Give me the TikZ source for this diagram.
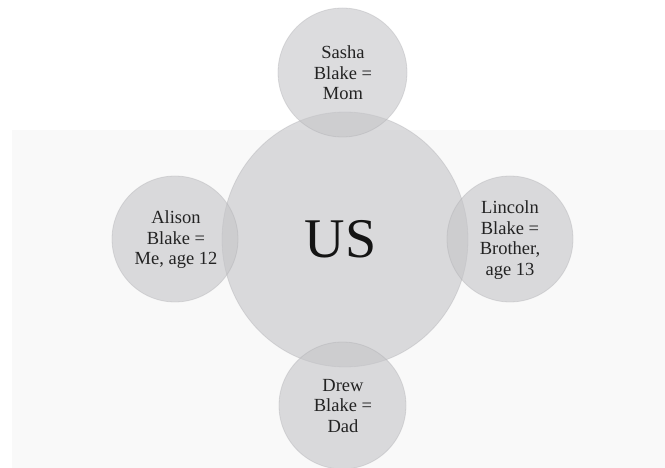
\documentclass[tikz,border=0pt]{standalone}
\usepackage{fontspec}
\setmainfont{Liberation Serif}
\usetikzlibrary{shapes.geometric}
\definecolor{bubble}{RGB}{197,197,200}
\definecolor{bubbleedge}{RGB}{170,170,174}
\definecolor{txt}{RGB}{35,35,35}
\tikzset{
  bubblestyle/.style={fill=bubble, fill opacity=0.6, draw=bubbleedge, draw opacity=0.35, line width=0.8pt, inner sep=0pt},
  small/.style={circle, bubblestyle},
  lbl/.style={align=center, text=txt, font=\fontsize{18.5}{20.5}\selectfont, inner sep=0pt}
}
\begin{document}
\begin{tikzpicture}[x=1pt,y=-1pt]
\useasboundingbox (0,0) rectangle (665,468);
\fill[white] (0,0) rectangle (665,468);
\fill[black!2.5] (12,130) rectangle (665,468);
\node[ellipse, bubblestyle, minimum width=246pt, minimum height=255pt] (us) at (345,239.5) {};
\node[small, minimum size=129pt] (mom) at (342.5,72.5) {};
\node[small, minimum size=126pt] (me) at (175,239) {};
\node[small, minimum size=126pt] (bro) at (510,239) {};
\node[small, minimum size=127pt] (dad) at (342.5,405.5) {};
\node[text=black!92, font=\fontsize{56}{60}\selectfont, inner sep=0pt] (ustext) at (340.5,239) {US};
\node[lbl] (momtext) at (343,73) {Sasha\\Blake =\\Mom};
\node[lbl] (metext) at (176,240) {Alison\\Blake =\\Me, age 12};
\node[lbl] (brotext) at (510,240) {Lincoln\\Blake =\\Brother,\\age 13};
\node[lbl] (dadtext) at (343,406) {Drew\\Blake =\\Dad};
\end{tikzpicture}
\end{document}
